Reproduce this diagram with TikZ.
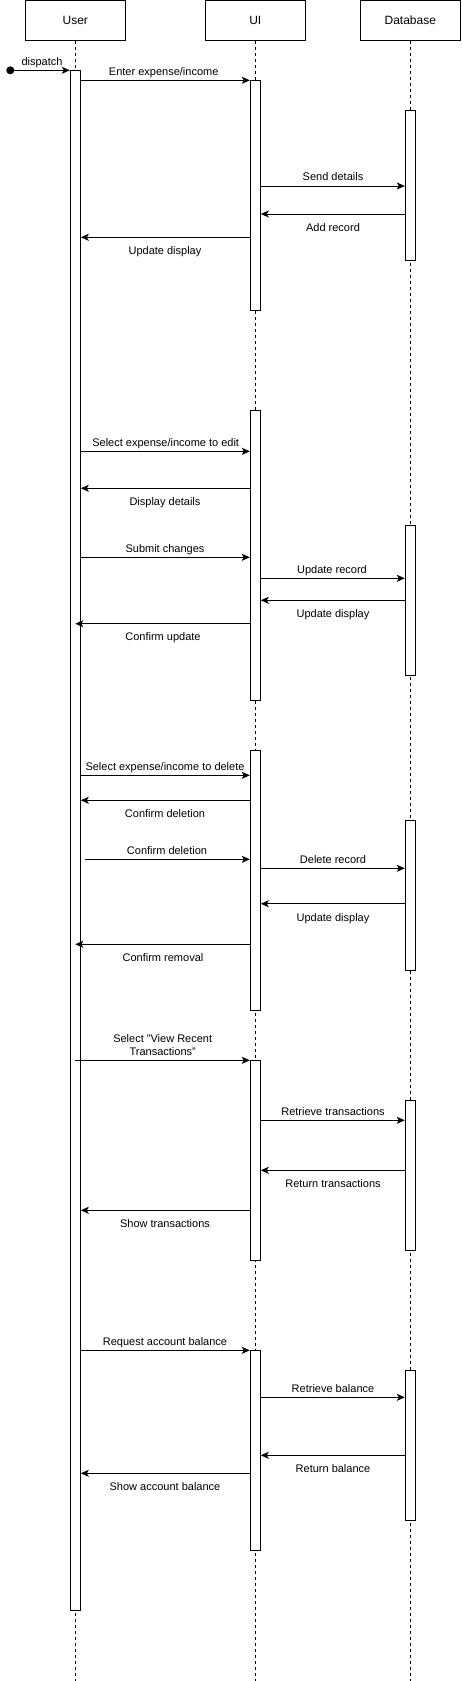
\documentclass[tikz,border=0pt]{standalone}
\usepackage{fontspec}
\setmainfont{Liberation Sans}
\usetikzlibrary{arrows.meta}
\begin{document}
\begin{tikzpicture}[x=1pt,y=-1pt,line width=1pt,
  actor/.style={draw,fill=white,minimum width=100pt,minimum height=40pt,inner sep=0pt,font=\fontsize{12}{14}\selectfont},
  life/.style={dash pattern=on 3pt off 3pt},
  act/.style={draw,fill=white,minimum width=10pt,inner sep=0pt,anchor=north},
  msg/.style={-{Stealth[length=8pt,width=7pt,inset=2pt]}},
  lbl/.style={font=\fontsize{11}{13}\selectfont,inner sep=1pt,text height=8pt,text depth=0pt,align=center}]
\useasboundingbox (0,0) rectangle (461,1681);
% actors
\node[actor] (user) at (75.3,20.4) {User};
\node[actor] (ui) at (255.3,20.4) {UI};
\node[actor] (db) at (410.3,20.4) {Database};
% lifelines
\coordinate (userend) at (75.3,1681);
\coordinate (uiend) at (255.3,1681);
\coordinate (dbend) at (410.3,1681);
\draw[life] (user.south) -- (userend);
\draw[life] (ui.south) -- (uiend);
\draw[life] (db.south) -- (dbend);
% activations
\node[act,minimum height=1540pt] (ua) at (75.3,70.3) {};
\node[act,minimum height=230pt] (ui1) at (255.3,80.3) {};
\node[act,minimum height=150pt] (db1) at (410.3,110.3) {};
\node[act,minimum height=290pt] (ui2) at (255.3,410.3) {};
\node[act,minimum height=150pt] (db2) at (410.3,525.3) {};
\node[act,minimum height=260pt] (ui3) at (255.3,750.3) {};
\node[act,minimum height=150pt] (db3) at (410.3,820.3) {};
\node[act,minimum height=200pt] (ui4) at (255.3,1060.3) {};
\node[act,minimum height=150pt] (db4) at (410.3,1100.3) {};
\node[act,minimum height=200pt] (ui5) at (255.3,1350.3) {};
\node[act,minimum height=150pt] (db5) at (410.3,1370.3) {};
% dispatch
\fill (10.3,70.3) circle (4pt);
\coordinate (start) at (10.3,70.3);
\draw[msg] (start) -- (ua.west |- start);
\node[lbl] (l0) at (42,61) {dispatch};
% block 1
\draw[msg] (ua.east |- 0,80.3) -- (ui1.west |- 0,80.3);
\node[lbl] (l1) at (163.7,71) {Enter expense/income};
\draw[msg] (ui1.east |- 0,186) -- (db1.west |- 0,186);
\node[lbl] (l2) at (333,176) {Send details};
\draw[msg] (db1.west |- 0,214) -- (ui1.east |- 0,214);
\node[lbl] (l3) at (333,227) {Add record};
\draw[msg] (ui1.west |- 0,237.3) -- (ua.east |- 0,237.3);
\node[lbl] (l4) at (165,250) {Update display};
% block 2
\draw[msg] (ua.east |- 0,451.3) -- (ui2.west |- 0,451.3);
\node[lbl] (l5) at (165.7,442) {Select expense/income to edit};
\draw[msg] (ui2.west |- 0,488.3) -- (ua.east |- 0,488.3);
\node[lbl] (l6) at (165,501) {Display details};
\draw[msg] (ua.east |- 0,557.3) -- (ui2.west |- 0,557.3);
\node[lbl] (l7) at (165,548) {Submit changes};
\draw[msg] (ui2.east |- 0,578.3) -- (db2.west |- 0,578.3);
\node[lbl] (l8) at (332,569) {Update record};
\draw[msg] (db2.west |- 0,600.3) -- (ui2.east |- 0,600.3);
\node[lbl] (l9) at (333,613) {Update display};
\draw[msg] (ui2.west |- 0,623.7) -- (ua.center |- 0,623.7);
\node[lbl] (l10) at (163,636) {Confirm update};
% block 3
\draw[msg] (ua.east |- 0,775.3) -- (ui3.west |- 0,775.3);
\node[lbl,fill=white] (l11) at (165,766) {Select expense/income to delete};
\draw[msg] (ui3.west |- 0,800.3) -- (ua.east |- 0,800.3);
\node[lbl] (l12) at (165,813) {Confirm deletion};
\coordinate (cd) at (85.3,859.3);
\draw[msg] (cd) -- (ui3.west |- cd);
\node[lbl] (l13) at (167,850) {Confirm deletion};
\draw[msg] (ui3.east |- 0,868.3) -- (db3.west |- 0,868.3);
\node[lbl] (l14) at (333,859) {Delete record};
\draw[msg] (db3.west |- 0,903.7) -- (ui3.east |- 0,903.7);
\node[lbl] (l15) at (333,917) {Update display};
\draw[msg] (ui3.west |- 0,944.3) -- (ua.center |- 0,944.3);
\node[lbl] (l16) at (163,957) {Confirm removal};
% block 4
\draw[msg] (ua.center |- 0,1060.3) -- (ui4.west |- 0,1060.3);
\node[lbl,text height=,text depth=] (l17) at (162.7,1045.5) {Select "View Recent\\Transactions"};
\draw[msg] (ui4.east |- 0,1120.3) -- (db4.west |- 0,1120.3);
\node[lbl] (l18) at (333,1111) {Retrieve transactions};
\draw[msg] (db4.west |- 0,1170.3) -- (ui4.east |- 0,1170.3);
\node[lbl] (l19) at (333,1183) {Return transactions};
\draw[msg] (ui4.west |- 0,1210.3) -- (ua.east |- 0,1210.3);
\node[lbl] (l20) at (165,1223) {Show transactions};
% block 5
\draw[msg] (ua.east |- 0,1350.3) -- (ui5.west |- 0,1350.3);
\node[lbl] (l21) at (165,1341) {Request account balance};
\draw[msg] (ui5.east |- 0,1397.3) -- (db5.west |- 0,1397.3);
\node[lbl] (l22) at (333,1388) {Retrieve balance};
\draw[msg] (db5.west |- 0,1455.3) -- (ui5.east |- 0,1455.3);
\node[lbl] (l23) at (333,1468) {Return balance};
\draw[msg] (ui5.west |- 0,1473.3) -- (ua.east |- 0,1473.3);
\node[lbl] (l24) at (165,1486) {Show account balance};
\end{tikzpicture}
\end{document}
